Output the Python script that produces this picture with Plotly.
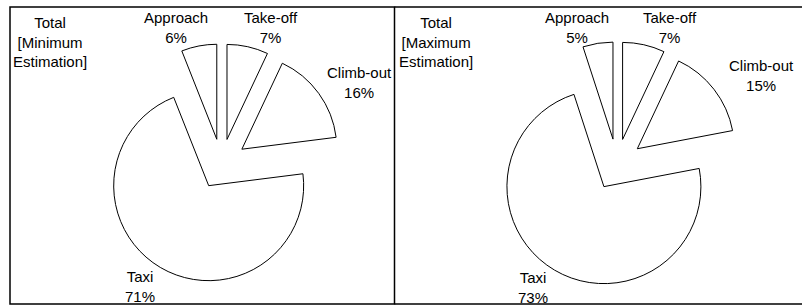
import plotly.graph_objects as go

# ---- data ----
phases = ["Take-off", "Climb-out", "Taxi", "Approach"]
min_values = [7, 16, 71, 6]
max_values = [7, 15, 73, 5]
panel_titles = ["Total<br>[Minimum<br>Estimation]", "Total<br>[Maximum<br>Estimation]"]

W, H = 802, 306
FONT = dict(family="Liberation Sans, Arial, sans-serif", size=15, color="#000000")


def px(x):
    return x / W


def py(y):
    return 1 - y / H


def domain(cx, cy, r, pull):
    h = r * (1 + pull)
    return dict(x=[px(cx - h), px(cx + h)], y=[py(cy + h), py(cy - h)])


PULL = 0.265
fig = go.Figure()
pie_geom = [(221.5, 164, 95), (617, 164.5, 97)]
for vals, (cx, cy, r) in zip([min_values, max_values], pie_geom):
    fig.add_trace(go.Pie(
        labels=phases, values=vals, sort=False, direction="clockwise", rotation=0,
        pull=[PULL] * len(vals), textinfo="none", hoverinfo="label+percent",
        marker=dict(colors=["#ffffff"] * len(vals), line=dict(color="#000000", width=1)),
        domain=domain(cx, cy, r, PULL), showlegend=False,
    ))

# label positions (pixel centres) per panel, in the order of `phases`
label_pos = [
    [(271, 27.5), (359, 82.5), (140, 286.5), (176, 27.5)],
    [(670, 27.5), (761, 75.5), (533, 287), (577, 27.5)],
]
title_pos = [(50, 42), (436, 42)]

annotations = []
for vals, positions in zip([min_values, max_values], label_pos):
    for name, v, (x, y) in zip(phases, vals, positions):
        annotations.append(dict(x=px(x), y=py(y), xref="paper", yref="paper",
                                text=f"{name}<br>{v}%", showarrow=False,
                                xanchor="center", yanchor="middle", font=FONT))
for t, (x, y) in zip(panel_titles, title_pos):
    annotations.append(dict(x=px(x), y=py(y), xref="paper", yref="paper", text=t,
                            showarrow=False, xanchor="center", yanchor="middle", font=FONT))

LINE = dict(color="#000000", width=1.5)
shapes = [
    dict(type="rect", xref="paper", yref="paper", x0=px(10), x1=px(394.5), y0=py(304), y1=py(7),
         line=LINE),
    dict(type="line", xref="paper", yref="paper", x0=px(394.5), x1=1, y0=py(7), y1=py(7), line=LINE),
    dict(type="line", xref="paper", yref="paper", x0=px(394.5), x1=1, y0=py(304), y1=py(304), line=LINE),
]

fig.update_layout(width=W, height=H, margin=dict(l=0, r=0, t=0, b=0),
                  paper_bgcolor="#ffffff", plot_bgcolor="#ffffff",
                  annotations=annotations, shapes=shapes, font=FONT)
fig.write_html("out.html", config={"displayModeBar": False},
               post_script="document.body.style.margin='0';document.body.style.overflow='hidden';")
